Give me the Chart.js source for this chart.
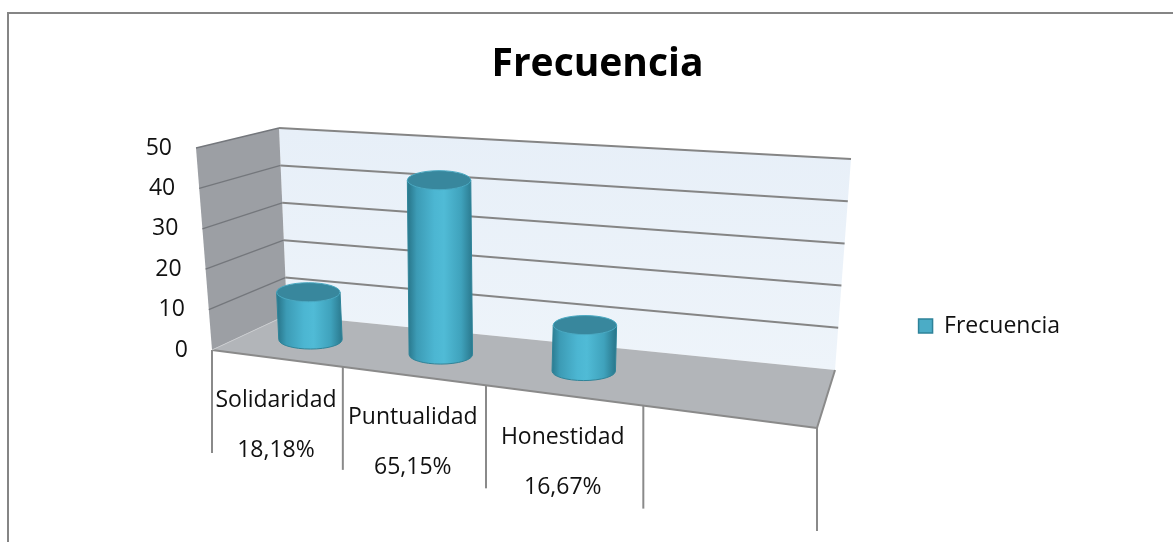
<!DOCTYPE html>
<html>
<head>
<meta charset="utf-8">
<script src="https://cdn.jsdelivr.net/npm/chart.js@4"></script>
<style>
html, body { margin: 0; padding: 0; background: #fff; overflow: hidden; }
#frame { position: absolute; left: 7px; top: 12px; width: 1300px; height: 700px;
         border-left: 2px solid #858585; border-top: 2px solid #858585; }
#wrap { position: absolute; left: 0; top: 0; width: 1173px; height: 542px; }
</style>
</head>
<body>
<div id="frame"></div>
<div id="wrap"><canvas id="chart"></canvas></div>
<script>
// data
const categories = ['Solidaridad', 'Puntualidad', 'Honestidad', ''];
const percentLabels = ['18,18%', '65,15%', '16,67%', ''];
const frecuencia = [12, 43, 11, null];
const yTicks = [0, 10, 20, 30, 40, 50];

// corners of the 3D box on screen (u along categories, v up, w into depth)
const box = {
  fl0: [212, 350], fr0: [817, 428], bl0: [287, 315], br0: [835, 370],
  fl1: [196, 148], fr1: [837, 200], bl1: [279, 128], br1: [851, 159]
};
const K = 1.208;  // perspective foreshortening along the category axis

function persp(u) { return u / (u + K * (1 - u)); }
function lerp(a, b, s) { return [a[0] + (b[0] - a[0]) * s, a[1] + (b[1] - a[1]) * s]; }
function proj(u, v, w) {
  const s = persp(u);
  const f = lerp(lerp(box.fl0, box.fr0, s), lerp(box.fl1, box.fr1, s), v);
  const b = lerp(lerp(box.bl0, box.br0, s), lerp(box.bl1, box.br1, s), v);
  return lerp(f, b, w);
}

function poly(ctx, pts, fill) {
  ctx.beginPath();
  ctx.moveTo(pts[0][0], pts[0][1]);
  for (let i = 1; i < pts.length; i++) ctx.lineTo(pts[i][0], pts[i][1]);
  ctx.closePath();
  ctx.fillStyle = fill;
  ctx.fill();
}
function line(ctx, p, q, color, lw) {
  ctx.beginPath();
  ctx.moveTo(p[0], p[1]);
  ctx.lineTo(q[0], q[1]);
  ctx.strokeStyle = color;
  ctx.lineWidth = lw;
  ctx.stroke();
}

// draws walls, floor, cylinders and labels in perspective from the chart's scales
const box3d = {
  id: 'box3d',
  beforeDatasetsDraw(chart) {
    const ctx = chart.ctx, a = chart.chartArea;
    const xs = chart.scales.x, ys = chart.scales.y;
    const U = px => (px - a.left) / (a.right - a.left);
    const V = py => (a.bottom - py) / (a.bottom - a.top);
    ctx.save();

    // walls and floor
    const backWall = ctx.createLinearGradient(0, 130, 0, 370);
    backWall.addColorStop(0, '#e7eff8');
    backWall.addColorStop(1, '#eef4fa');
    poly(ctx, [proj(0, 0, 1), proj(1, 0, 1), proj(1, 1, 1), proj(0, 1, 1)], backWall);
    poly(ctx, [proj(0, 0, 0), proj(0, 0, 1), proj(0, 1, 1), proj(0, 1, 0)], '#9c9fa4');
    poly(ctx, [proj(0, 0, 0), proj(1, 0, 0), proj(1, 0, 1), proj(0, 0, 1)], '#b2b5b9');

    // gridlines on back and side wall
    ys.ticks.forEach(t => {
      const v = V(ys.getPixelForValue(t.value));
      if (v <= 0) return;
      line(ctx, proj(0, v, 0), proj(0, v, 1), '#74777c', 1.3);
      line(ctx, proj(0, v, 1), proj(1, v, 1), '#858585', 2);
    });
    line(ctx, proj(0, 0, 0), proj(1, 0, 0), '#8a8a8a', 2);
    line(ctx, proj(1, 0, 0), proj(1, 0, 1), '#8a8a8a', 2);
    line(ctx, proj(0, 0, 0), proj(0, 0, 1), '#c9cbce', 1);

    // cylinders
    const meta = chart.getDatasetMeta(0);
    const span = proj(1, 0, 0.5)[0] - proj(0, 0, 0.5)[0];
    meta.data.forEach((el, i) => {
      if (frecuencia[i] == null) return;
      const u = U(el.x);
      const B = proj(u, V(el.base), 0.5), T = proj(u, V(el.y), 0.5);
      const rx = el.width / (a.right - a.left) * span / 2;
      const ry = rx * 0.3;
      const g = ctx.createLinearGradient(B[0] - rx, 0, B[0] + rx, 0);
      g.addColorStop(0, '#2b7b90');
      g.addColorStop(0.12, '#3c9bb5');
      g.addColorStop(0.4, '#4cb6d2');
      g.addColorStop(0.55, '#50bbd6');
      g.addColorStop(0.82, '#3fa2bc');
      g.addColorStop(1, '#2a788d');
      ctx.beginPath();
      ctx.moveTo(T[0] - rx, T[1]);
      ctx.lineTo(B[0] - rx, B[1]);
      ctx.ellipse(B[0], B[1], rx, ry, 0, Math.PI, 0, true);
      ctx.lineTo(T[0] + rx, T[1]);
      ctx.closePath();
      ctx.fillStyle = g;
      ctx.fill();
      ctx.strokeStyle = '#2f8499';
      ctx.lineWidth = 1;
      ctx.stroke();
      ctx.beginPath();
      ctx.ellipse(T[0], T[1], rx, ry, 0, 0, Math.PI * 2);
      ctx.fillStyle = '#38879d';
      ctx.fill();
      ctx.strokeStyle = '#4aa9c2';
      ctx.stroke();
    });

    // category dividers and labels under the floor
    const slot = (a.right - a.left) / categories.length;
    for (let i = 0; i <= categories.length; i++) {
      const px = i < categories.length ? xs.getPixelForValue(i) - slot / 2 : a.right;
      const p = proj(U(px), 0, 0);
      line(ctx, p, [p[0], p[1] + 103], '#8a8a8a', 2);
    }
    ctx.fillStyle = '#111';
    ctx.font = '23px "Open Sans"';
    ctx.textAlign = 'center';
    ctx.textBaseline = 'middle';
    categories.forEach((c, i) => {
      const p = proj(U(xs.getPixelForValue(i)), 0, 0);
      ctx.fillText(xs.getLabelForValue(i), p[0], p[1] + 42);
      ctx.fillText(percentLabels[i], p[0], p[1] + 92);
    });

    // value axis labels along the front edge of the side wall
    ctx.textAlign = 'right';
    ys.ticks.forEach(t => {
      const p = proj(0, V(ys.getPixelForValue(t.value)), 0);
      ctx.fillText(String(t.value), p[0] - 24, p[1]);
    });

    ctx.restore();
    return false;
  }
};

Chart.defaults.font.family = '"Open Sans", sans-serif';

new Chart(document.getElementById('chart'), {
  type: 'bar',
  data: {
    labels: categories,
    datasets: [{
      label: 'Frecuencia',
      data: frecuencia,
      backgroundColor: '#4BACC6',
      borderColor: '#2E8299',
      borderWidth: 1.5,
      categoryPercentage: 1,
      barPercentage: 0.44
    }]
  },
  options: {
    responsive: true,
    maintainAspectRatio: false,
    animation: false,
    events: [],
    layout: { padding: { left: 125, right: 103, top: 0, bottom: -110 } },
    scales: {
      x: { display: false },
      y: { display: false, min: yTicks[0], max: yTicks[yTicks.length - 1], ticks: { stepSize: 10 } }
    },
    plugins: {
      title: {
        display: true,
        text: 'Frecuencia',
        color: '#000',
        font: { size: 39, weight: 'bold' },
        padding: { top: 41, bottom: 24 }
      },
      legend: {
        position: 'right',
        labels: { color: '#111', font: { size: 23 }, boxWidth: 14, boxHeight: 14, padding: 10 }
      },
      tooltip: { enabled: false }
    }
  },
  plugins: [box3d]
});
</script>
</body>
</html>
